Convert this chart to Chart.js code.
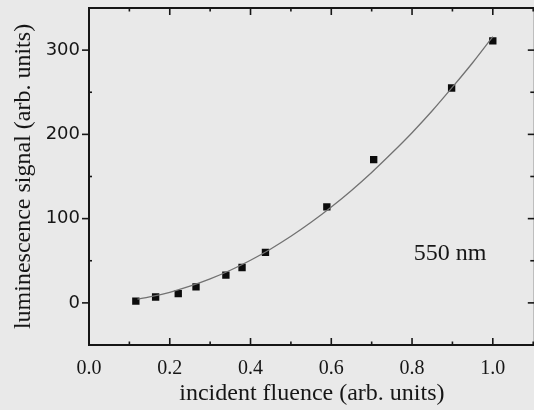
<!DOCTYPE html>
<html><head><meta charset="utf-8">
<script src="https://cdn.jsdelivr.net/npm/chart.js@4.4.1/dist/chart.umd.min.js"></script>
<style>
html,body{margin:0;padding:0;background:#e9e9e9;overflow:hidden;width:534px;height:410px}
#wrap{position:relative;width:540px;height:410px}
canvas{display:block}
</style></head>
<body><div id="wrap"><canvas id="c" width="540" height="410"></canvas></div>
<script>
// measured points
const fluence = [0.116, 0.165, 0.221, 0.265, 0.339, 0.379, 0.437, 0.589, 0.705, 0.898, 1.0];
const signal  = [2, 7, 11, 19, 33, 42, 60, 114, 170, 255, 311];
// fitted curve
const fitFluence = [0.12, 0.15, 0.2, 0.25, 0.3, 0.35, 0.4, 0.45, 0.5, 0.55, 0.6, 0.65, 0.7, 0.75, 0.8, 0.85, 0.9, 0.95, 1.0];
const fitSignal  = [4.5, 7, 12.6, 19.8, 28.4, 38.7, 50.6, 64, 79, 95.6, 113.8, 133.5, 154.8, 177.8, 202, 228, 256, 285, 316];
// tick labels
const xTickLabels = [0.0, 0.2, 0.4, 0.6, 0.8, 1.0];
const xMinorTicks = [0.1, 0.3, 0.5, 0.7, 0.9, 1.1];
const yTickLabels = [0, 100, 200, 300];
const yMinorTicks = [50, 150, 250];
const annotationText = '550 nm';
const annotationAt = {x: 0.894, y: 51};

const INK = '#161616';

const framePlugin = {
  id: 'frame',
  afterDraw(chart) {
    const {ctx, chartArea: a, scales: {x, y}} = chart;
    ctx.save();
    ctx.strokeStyle = INK;
    const line = (x1, y1, x2, y2) => { ctx.beginPath(); ctx.moveTo(x1, y1); ctx.lineTo(x2, y2); ctx.stroke(); };
    ctx.lineWidth = 1.6;
    xTickLabels.forEach(v => { const p = x.getPixelForValue(v); line(p, a.bottom, p, a.bottom - 7); line(p, a.top, p, a.top + 7); });
    xMinorTicks.forEach(v => { const p = x.getPixelForValue(v); line(p, a.bottom, p, a.bottom - 3.5); line(p, a.top, p, a.top + 3.5); });
    yTickLabels.forEach(v => { const p = y.getPixelForValue(v); line(a.left - 7, p, a.left, p); line(a.right, p, a.right - 7, p); });
    yMinorTicks.forEach(v => { const p = y.getPixelForValue(v); line(a.left, p, a.left + 3, p); line(a.right, p, a.right - 4.5, p); });
    ctx.lineWidth = 2;
    ctx.strokeRect(a.left, a.top, a.right - a.left, a.bottom - a.top);
    ctx.fillStyle = INK;
    ctx.font = '24px "Liberation Serif"';
    ctx.textAlign = 'center';
    ctx.textBaseline = 'alphabetic';
    ctx.fillText(annotationText, x.getPixelForValue(annotationAt.x), y.getPixelForValue(annotationAt.y));
    ctx.restore();
  }
};

new Chart(document.getElementById('c'), {
  type: 'scatter',
  data: {
    datasets: [
      {
        data: fitFluence.map((v, i) => ({x: v, y: fitSignal[i]})),
        showLine: true,
        borderColor: '#727272',
        borderWidth: 1.3,
        pointRadius: 0,
        cubicInterpolationMode: 'monotone',
        fill: false
      },
      {
        data: fluence.map((v, i) => ({x: v, y: signal[i]})),
        pointStyle: 'rect',
        pointRadius: 5.2,
        pointBackgroundColor: '#0c0c0c',
        pointBorderColor: '#0c0c0c',
        pointBorderWidth: 0
      }
    ]
  },
  options: {
    responsive: false,
    animation: false,
    devicePixelRatio: 1,
    layout: {padding: {top: 8, right: 4, left: 0, bottom: 0}},
    plugins: {legend: {display: false}, tooltip: {enabled: false}},
    scales: {
      x: {
        type: 'linear', min: 0, max: 1.104,
        afterBuildTicks: s => { s.ticks = xTickLabels.map(v => ({value: v})); },
        afterFit: s => { s.height = 65; s.paddingLeft = 0; s.paddingRight = 0; },
        grid: {display: false, drawTicks: false},
        border: {display: false},
        ticks: {
          color: INK, padding: 12, maxRotation: 0, autoSkip: false,
          font: {family: 'Liberation Serif', size: 20},
          callback: v => Number(v).toFixed(1)
        },
        title: {
          display: true, text: 'incident fluence (arb. units)', color: INK,
          font: {family: 'Liberation Serif', size: 24, lineHeight: 1.2},
          padding: {top: 0, bottom: 2}
        }
      },
      y: {
        type: 'linear', min: -50, max: 350,
        afterBuildTicks: s => { s.ticks = yTickLabels.map(v => ({value: v})); },
        afterFit: s => { s.width = 89; s.paddingTop = 0; s.paddingBottom = 0; },
        grid: {display: false, drawTicks: false},
        border: {display: false},
        ticks: {
          color: INK, padding: 9, autoSkip: false,
          font: {family: 'DejaVu Sans', size: 18},
          callback: v => String(v)
        },
        title: {
          display: true, text: 'luminescence signal (arb. units)', color: INK,
          font: {family: 'Liberation Serif', size: 24, lineHeight: 1.2},
          padding: {top: 9, bottom: 0}
        }
      }
    }
  },
  plugins: [framePlugin]
});
</script>
</body></html>
